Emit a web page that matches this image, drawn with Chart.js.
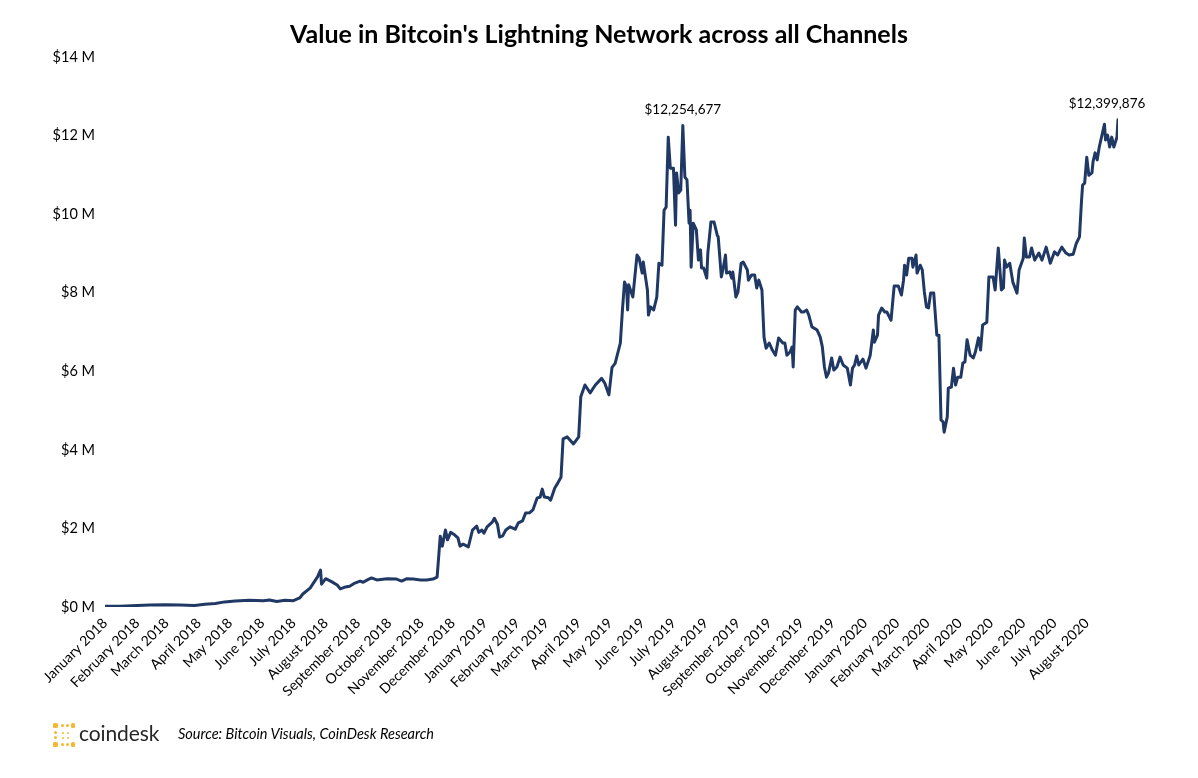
<!DOCTYPE html>
<html><head><meta charset="utf-8">
<script src="https://cdn.jsdelivr.net/npm/chart.js@4.4.1/dist/chart.umd.min.js"></script>
<style>
html,body{margin:0;padding:0;background:#fff;}
#wrap{position:relative;width:1198px;height:778px;overflow:hidden;background:#fff;}
#c{position:absolute;left:0;top:0;}
#title{position:absolute;left:0;top:18px;width:1198px;text-align:center;font:bold 25px Lato,"Open Sans",sans-serif;color:#000;}
#logo{position:absolute;left:53px;top:723px;width:22px;height:24px;}
#logo span{position:absolute;background:#f4b72f;border-radius:1.5px;}
#brand{position:absolute;left:79px;top:720px;font:21px Lato,"Open Sans",sans-serif;color:#262626;letter-spacing:-0.1px;}
#source{position:absolute;left:178px;top:725px;font:italic 14.5px Lato,"Open Sans",sans-serif;color:#000;}
</style></head>
<body>
<div id="wrap">
<canvas id="c" width="1198" height="778"></canvas>
<div id="title">Value in Bitcoin's Lightning Network across all Channels</div>
<div id="logo">
<span style="left:0;top:0;width:5px;height:5px"></span>
<span style="left:8px;top:1px;width:3px;height:3px"></span>
<span style="left:13px;top:1px;width:3px;height:3px"></span>
<span style="left:18px;top:0;width:4px;height:5px"></span>
<span style="left:1px;top:8px;width:3px;height:3px"></span>
<span style="left:1px;top:13px;width:3px;height:3px"></span>
<span style="left:9px;top:9px;width:2px;height:2px"></span>
<span style="left:14px;top:9px;width:2px;height:2px"></span>
<span style="left:9px;top:14px;width:2px;height:2px"></span>
<span style="left:14px;top:14px;width:2px;height:2px"></span>
<span style="left:0;top:19px;width:5px;height:5px"></span>
<span style="left:8px;top:20px;width:3px;height:3px"></span>
<span style="left:13px;top:20px;width:3px;height:3px"></span>
<span style="left:18px;top:19px;width:4px;height:5px"></span>
</div>
<div id="brand">coindesk</div>
<div id="source">Source: Bitcoin Visuals, CoinDesk Research</div>
</div>
<script>
const monthLabels = [
 'January 2018','February 2018','March 2018','April 2018','May 2018','June 2018','July 2018','August 2018',
 'September 2018','October 2018','November 2018','December 2018',
 'January 2019','February 2019','March 2019','April 2019','May 2019','June 2019','July 2019','August 2019',
 'September 2019','October 2019','November 2019','December 2019',
 'January 2020','February 2020','March 2020','April 2020','May 2020','June 2020','July 2020','August 2020'
];
const yTicks = [0,2,4,6,8,10,12,14];

const dates = [
'2018-01-01','2018-01-15','2018-02-01','2018-02-13','2018-02-28','2018-03-14','2018-03-28','2018-04-07','2018-04-17','2018-04-26',
'2018-05-06','2018-05-20','2018-06-02','2018-06-08','2018-06-15','2018-06-23','2018-07-01','2018-07-07','2018-07-10','2018-07-17',
'2018-07-24','2018-07-27','2018-07-28','2018-08-01','2018-08-07','2018-08-12','2018-08-15','2018-08-20','2018-08-24','2018-08-29',
'2018-09-03','2018-09-06','2018-09-10','2018-09-14','2018-09-19','2018-09-29','2018-10-08','2018-10-13','2018-10-18','2018-10-24',
'2018-10-31','2018-11-06','2018-11-12','2018-11-16','2018-11-19','2018-11-21','2018-11-24','2018-11-26','2018-11-29','2018-12-03',
'2018-12-06','2018-12-08','2018-12-11','2018-12-16','2018-12-20','2018-12-24','2018-12-26','2018-12-29','2018-12-31',
'2019-01-03','2019-01-08','2019-01-10','2019-01-13','2019-01-15','2019-01-18','2019-01-21','2019-01-25','2019-01-30',
'2019-02-02','2019-02-06','2019-02-09','2019-02-13','2019-02-16','2019-02-20','2019-02-23','2019-02-25','2019-02-27',
'2019-03-03','2019-03-05','2019-03-09','2019-03-12','2019-03-15','2019-03-17','2019-03-21','2019-03-27',
'2019-04-01','2019-04-03','2019-04-07','2019-04-12','2019-04-17','2019-04-23','2019-04-26','2019-04-30',
'2019-05-03','2019-05-06','2019-05-11','2019-05-13','2019-05-15','2019-05-17','2019-05-18','2019-05-19','2019-05-23','2019-05-27','2019-05-29',
'2019-06-01','2019-06-02','2019-06-06','2019-06-07','2019-06-09','2019-06-12','2019-06-15','2019-06-17','2019-06-20','2019-06-22','2019-06-24','2019-06-26','2019-06-28',
'2019-07-01','2019-07-03','2019-07-04','2019-07-06','2019-07-08','2019-07-10','2019-07-12','2019-07-14','2019-07-16','2019-07-17','2019-07-18','2019-07-20','2019-07-23','2019-07-25','2019-07-27','2019-07-28','2019-07-30',
'2019-08-02','2019-08-03','2019-08-06','2019-08-09','2019-08-12','2019-08-13','2019-08-16','2019-08-18','2019-08-20','2019-08-21','2019-08-24','2019-08-26','2019-08-27','2019-08-30',
'2019-09-01','2019-09-04','2019-09-06','2019-09-10','2019-09-11','2019-09-14','2019-09-17','2019-09-19','2019-09-21','2019-09-24','2019-09-26','2019-09-28',
'2019-10-01','2019-10-04','2019-10-07','2019-10-10','2019-10-14','2019-10-16','2019-10-18','2019-10-21','2019-10-23','2019-10-24','2019-10-26','2019-10-28',
'2019-11-01','2019-11-03','2019-11-06','2019-11-08','2019-11-11','2019-11-16','2019-11-19','2019-11-21','2019-11-23','2019-11-25','2019-11-27','2019-11-30',
'2019-12-02','2019-12-05','2019-12-08','2019-12-11','2019-12-15','2019-12-18','2019-12-20','2019-12-22','2019-12-24','2019-12-26','2019-12-30',
'2020-01-02','2020-01-06','2020-01-09','2020-01-10','2020-01-13','2020-01-14','2020-01-17','2020-01-20','2020-01-22','2020-01-26','2020-01-29',
'2020-02-02','2020-02-05','2020-02-07','2020-02-08','2020-02-10','2020-02-12','2020-02-15','2020-02-16','2020-02-19','2020-02-20','2020-02-23','2020-02-25','2020-02-27','2020-02-29',
'2020-03-02','2020-03-04','2020-03-07','2020-03-10','2020-03-12','2020-03-14','2020-03-16','2020-03-17','2020-03-20','2020-03-21','2020-03-24','2020-03-26','2020-03-28','2020-03-30',
'2020-04-02','2020-04-04','2020-04-06','2020-04-08','2020-04-11','2020-04-14','2020-04-16','2020-04-19','2020-04-21','2020-04-23','2020-04-27','2020-04-29',
'2020-05-03','2020-05-05','2020-05-08','2020-05-11','2020-05-13','2020-05-14','2020-05-16','2020-05-19','2020-05-22','2020-05-26','2020-05-28',
'2020-06-01','2020-06-02','2020-06-04','2020-06-07','2020-06-09','2020-06-12','2020-06-16','2020-06-19','2020-06-23','2020-06-27',
'2020-07-01','2020-07-04','2020-07-08','2020-07-12','2020-07-15','2020-07-19','2020-07-22','2020-07-25','2020-07-27','2020-07-28','2020-07-30',
'2020-08-01','2020-08-03','2020-08-06','2020-08-07','2020-08-09','2020-08-11','2020-08-13','2020-08-16','2020-08-18','2020-08-19','2020-08-21','2020-08-23','2020-08-25','2020-08-27','2020-08-30','2020-08-31'
];
// Value in $ millions
const values = [
0.02,0.02,0.04,0.05,0.06,0.05,0.04,0.07,0.09,0.13,
0.15,0.17,0.16,0.18,0.14,0.17,0.16,0.23,0.33,0.48,
0.76,0.94,0.58,0.72,0.64,0.56,0.46,0.51,0.53,0.61,
0.66,0.63,0.69,0.74,0.69,0.72,0.71,0.66,0.72,0.71,
0.69,0.69,0.71,0.76,1.80,1.55,1.96,1.71,1.90,1.83,
1.76,1.55,1.60,1.53,1.96,2.06,1.90,1.96,1.88,
2.04,2.16,2.26,2.10,1.78,1.81,1.96,2.04,1.98,
2.14,2.19,2.39,2.40,2.47,2.77,2.80,3.00,2.80,
2.78,2.72,3.03,3.16,3.30,4.28,4.33,4.15,
4.33,5.35,5.65,5.45,5.65,5.82,5.70,5.40,
6.10,6.20,6.72,7.56,8.27,8.14,7.56,8.20,7.89,8.96,8.88,
8.50,8.78,8.07,7.43,7.64,7.56,7.89,8.75,8.70,10.10,10.18,11.96,11.17,
11.17,9.72,11.05,10.54,10.61,12.254677,10.94,10.87,9.77,10.10,8.65,9.77,9.60,8.83,9.09,8.63,8.63,
8.37,9.00,9.80,9.80,9.47,9.42,8.40,8.65,8.96,8.50,8.53,8.37,8.53,7.89,
8.02,8.75,8.78,8.58,8.32,8.45,8.45,8.12,8.32,8.07,6.87,6.59,
6.72,6.54,6.41,6.85,6.72,6.72,6.41,6.49,6.62,6.11,7.56,7.64,
7.51,7.51,7.56,7.43,7.13,7.05,6.87,6.62,6.11,5.85,5.96,6.34,
6.03,6.11,6.36,6.16,6.08,5.65,6.08,6.16,6.39,6.16,6.31,
6.08,6.41,7.05,6.74,6.92,7.43,7.61,7.51,7.51,7.30,8.17,
8.17,7.94,8.32,8.70,8.45,8.88,8.88,8.65,8.96,8.50,8.70,8.58,8.02,7.64,
7.61,7.99,7.99,6.92,6.92,4.76,4.71,4.45,4.84,5.57,5.60,6.08,5.65,5.85,
5.85,6.21,6.24,6.80,6.41,6.34,6.49,6.85,6.54,7.18,7.25,8.40,
8.40,8.07,9.14,8.07,8.12,8.83,8.65,8.75,8.27,7.99,8.58,
8.88,9.39,8.91,8.91,9.14,8.83,9.01,8.83,9.16,8.75,
9.04,8.96,9.16,9.01,8.96,8.98,9.26,9.42,10.36,10.74,10.79,
11.45,10.99,11.05,11.33,11.56,11.38,11.71,12.06,12.29,11.89,12.01,11.71,11.96,11.71,11.96,12.399876
];
const annotationDates = ['2019-07-10','2020-08-31'];
const annotationTexts = ['$12,254,677','$12,399,876'];

const T0 = Date.UTC(2018,0,1);
const dayOf = s => (Date.parse(s + 'T00:00:00Z') - T0) / 86400000;
const monthDays = monthLabels.map((_, i) => (Date.UTC(2018, i, 1) - T0) / 86400000);
const points = dates.map((d, i) => ({x: dayOf(d), y: values[i]}));

const FONT = 'Lato, "Open Sans", sans-serif';

const annotPlugin = {
  id: 'annot',
  afterDatasetsDraw(chart) {
    const {ctx, scales: {x, y}} = chart;
    ctx.save();
    ctx.font = '13.5px ' + FONT;
    ctx.fillStyle = '#000';
    ctx.textAlign = 'center';
    ctx.textBaseline = 'middle';
    annotationDates.forEach((d, i) => {
      const idx = dates.indexOf(d);
      const px = x.getPixelForValue(dayOf(d));
      const py = y.getPixelForValue(values[idx]);
      const dx = i === annotationDates.length - 1 ? -11 : 0;
      ctx.fillText(annotationTexts[i], px + dx, py - 16);
    });
    ctx.restore();
  }
};

new Chart(document.getElementById('c'), {
  type: 'line',
  data: {
    datasets: [{
      data: points,
      borderColor: '#203864',
      borderWidth: 3,
      borderJoinStyle: 'round',
      borderCapStyle: 'round',
      pointRadius: 0,
      tension: 0,
      fill: false
    }]
  },
  options: {
    responsive: false,
    animation: false,
    devicePixelRatio: 1,
    layout: {padding: {left: 0, right: 80, top: 57, bottom: 0}},
    plugins: {legend: {display: false}, tooltip: {enabled: false}, title: {display: false}},
    scales: {
      x: {
        type: 'linear',
        min: 0,
        max: dayOf(dates[dates.length - 1]),
        grid: {display: false, drawTicks: false},
        border: {display: false},
        afterBuildTicks: s => { s.ticks = monthDays.map(v => ({value: v})); },
        afterFit: s => { s.height = 171; },
        ticks: {
          autoSkip: false,
          minRotation: 45,
          maxRotation: 45,
          padding: 8,
          color: '#000',
          font: {family: FONT, size: 14},
          callback: (v, i) => monthLabels[i]
        }
      },
      y: {
        min: 0,
        max: 14,
        grid: {display: false, drawTicks: false},
        border: {display: false},
        afterBuildTicks: s => { s.ticks = yTicks.map(v => ({value: v})); },
        afterFit: s => { s.width = 105; },
        ticks: {
          padding: 10,
          color: '#000',
          font: {family: FONT, size: 14.5},
          callback: v => '$' + v + ' M'
        }
      }
    }
  },
  plugins: [annotPlugin]
});
</script>
</body></html>
